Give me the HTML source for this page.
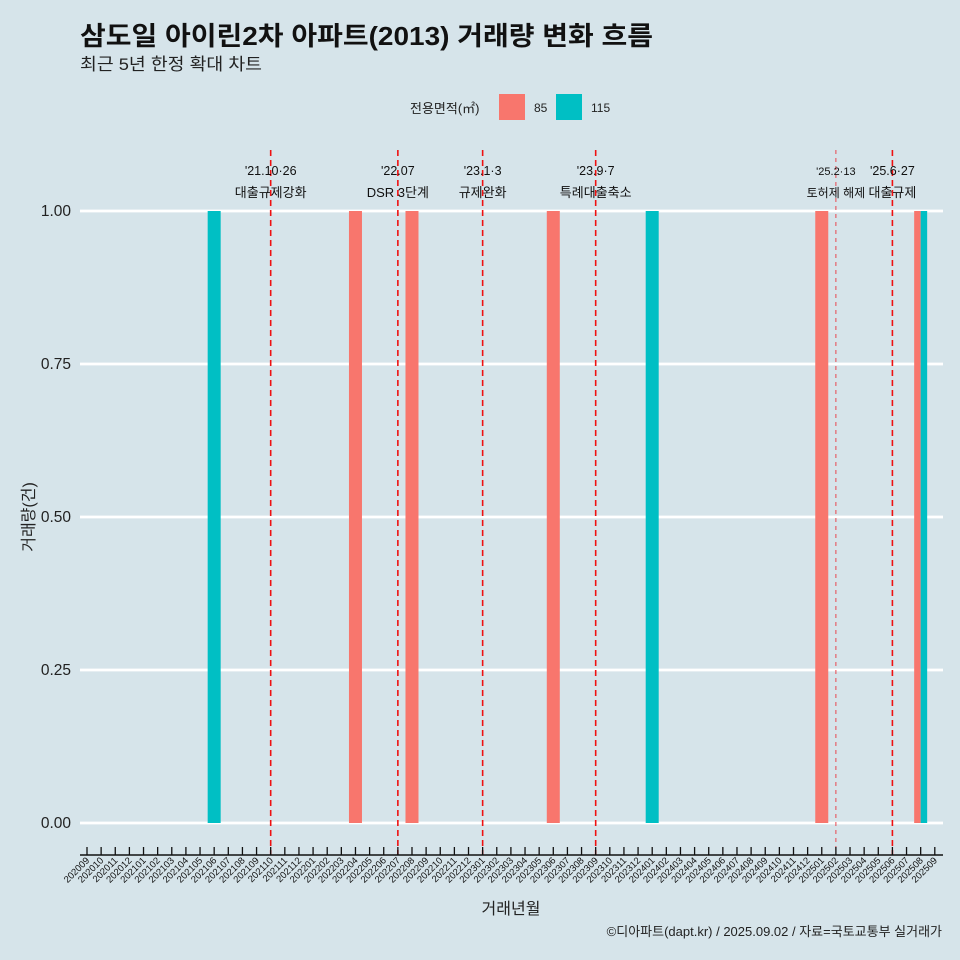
<!DOCTYPE html>
<html><head><meta charset="utf-8">
<style>
body{margin:0;background:#d6e4ea;}
svg{display:block;font-family:"Liberation Sans","Noto Sans CJK KR",sans-serif;}
</style></head>
<body>
<svg id="chart" width="960" height="960" viewBox="0 0 960 960">
<rect width="960" height="960" fill="#d6e4ea"/>
<text x="80" y="45" font-size="26" font-weight="bold" fill="#111" textLength="573" lengthAdjust="spacingAndGlyphs">삼도일 아이린2차 아파트(2013) 거래량 변화 흐름</text>
<text x="80" y="70" font-size="17" fill="#222" textLength="182" lengthAdjust="spacingAndGlyphs">최근 5년 한정 확대 차트</text>
<g>
<text x="410" y="113" font-size="13" fill="#222">전용면적(㎡)</text>
<rect x="499" y="94" width="26" height="26" fill="#f8766d"/>
<text x="534" y="112" font-size="12" fill="#222">85</text>
<rect x="556" y="94" width="26" height="26" fill="#00bfc4"/>
<text x="591" y="112" font-size="12" fill="#222">115</text>
</g>
<g id="grid"></g>
<g id="vlines"></g>
<g id="bars"></g>
<g id="axes"></g>
<text x="0" y="0" transform="translate(34,517) rotate(-90)" text-anchor="middle" font-size="16" fill="#222">거래량(건)</text>
<text x="511" y="914" text-anchor="middle" font-size="16" fill="#222">거래년월</text>
<text x="942" y="936" text-anchor="end" font-size="13" fill="#222">©디아파트(dapt.kr) / 2025.09.02 / 자료=국토교통부 실거래가</text>
</svg>
<script>
const months=[];
for(let y=2020,m=9;!(y===2025&&m===10);){months.push(String(y)+String(m).padStart(2,'0'));m++;if(m>12){m=1;y++;}}
const yTicks=[0,0.25,0.5,0.75,1.0];
const yTickLabels=["0.00","0.25","0.50","0.75","1.00"];
const bars85Months=["202204","202208","202306","202501","202508"];
const bars85Values=[1,1,1,1,1];
const bars115Months=["202106","202401","202508"];
const bars115Values=[1,1,1];
const eventMonths=["202110","202207","202301","202309","202502","202506"];
const eventDates=["'21.10·26","'22.07","'23.1·3","'23.9·7","'25.2·13","'25.6·27"];
const eventLabels=["대출규제강화","DSR 3단계","규제완화","특례대출축소","토허제 해제","대출규제"];

const NS="http://www.w3.org/2000/svg";
const X0=87,STEP=14.13,Y0=823,YS=612;
const xs=m=>X0+months.indexOf(m)*STEP;
const ys=v=>Y0-v*YS;
function mk(tag,attrs,parent){const e=document.createElementNS(NS,tag);for(const k in attrs)e.setAttribute(k,attrs[k]);parent.appendChild(e);return e;}
const grid=document.getElementById('grid'),vl=document.getElementById('vlines'),bg=document.getElementById('bars'),ax=document.getElementById('axes');
yTicks.forEach((t,i)=>{
 const l=mk('line',{x1:80,x2:943,y1:ys(t),y2:ys(t),stroke:'#fff','stroke-width':2.8},grid);
 
 
 const tx=mk('text',{x:71,y:ys(t)+5,'text-anchor':'end','font-size':15.5,fill:'#222'},grid);
 tx.textContent=yTickLabels[i];
 
 
});
eventMonths.forEach((m,i)=>{
 const x=xs(m);
 const l=mk('line',{x1:x,x2:x,y1:150,y2:855,stroke:i===4?'#e8474f':'#ee1111','stroke-width':i===4?1:1.6,'stroke-dasharray':i===4?'4 4':'6 4'},vl);
 
 
 const small=i===4;
 const t1=mk('text',{x:x,y:175,'text-anchor':'middle','font-size':small?11:12.5,fill:'#111'},vl);
 t1.textContent=eventDates[i];
 
 
 const t2=mk('text',{x:x,y:197,'text-anchor':'middle','font-size':small?12:13,fill:'#111'},vl);
 t2.textContent=eventLabels[i];
 
 
});
const BW=13;
function drawBar(m,v,color,name){
 const both=bars85Months.includes(m)&&bars115Months.includes(m);
 let x=xs(m)-BW/2,w=BW;
 if(both){w=BW/2;if(color==='#00bfc4')x+=BW/2;}
 const r=mk('rect',{x:x,y:ys(v),width:w,height:ys(0)-ys(v),fill:color},bg);
 
 
}
bars85Months.forEach((m,i)=>drawBar(m,bars85Values[i],'#f8766d','bar-85-'+m));
bars115Months.forEach((m,i)=>drawBar(m,bars115Values[i],'#00bfc4','bar-115-'+m));
const al=mk('line',{x1:80,x2:943,y1:855,y2:855,stroke:'#111','stroke-width':1.5},ax);


months.forEach(m=>{
 const x=xs(m);
 const t=mk('line',{x1:x,x2:x,y1:847,y2:855,stroke:'#111','stroke-width':1.3},ax);
 
 
 const tx=mk('text',{x:0,y:0,transform:`translate(${x+3},${861}) rotate(-45)`,'text-anchor':'end','font-size':9.5,fill:'#111'},ax);
 tx.textContent=m;
 
 
});
</script>
</body></html>
